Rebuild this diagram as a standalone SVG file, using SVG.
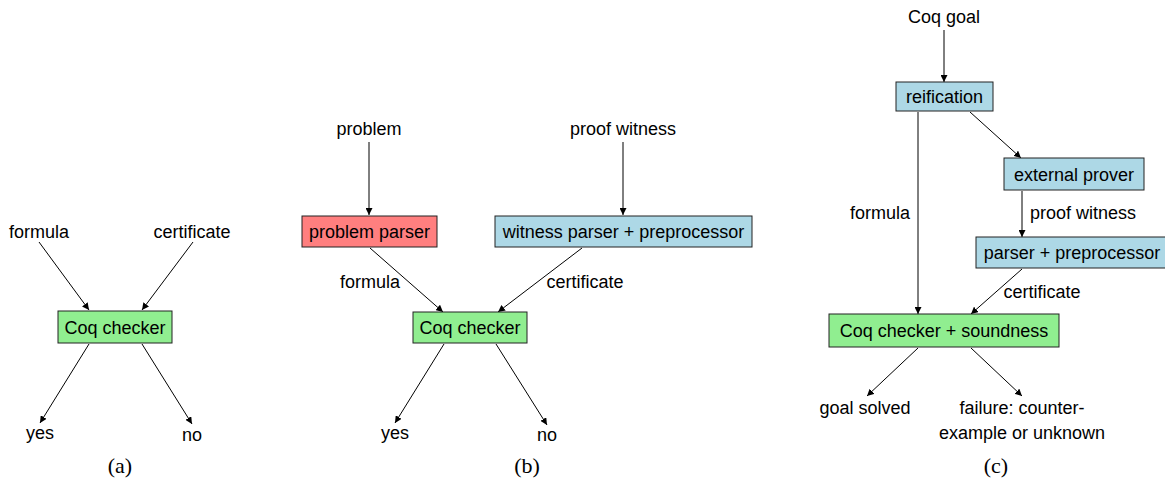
<svg xmlns="http://www.w3.org/2000/svg" width="1165" height="486" viewBox="0 0 1165 486">
<style>
text{font-family:"Liberation Sans","DejaVu Sans",sans-serif;font-size:18px;fill:#000;text-anchor:middle}
.cap{font-family:"Liberation Serif",serif;font-size:22px}
.box{stroke:#222;stroke-width:1}
.g{fill:#90EE90}.b{fill:#ADD8E6}.r{fill:#FF7F7F}
.e{stroke:#000;stroke-width:1;fill:none;marker-end:url(#ah)}
</style>
<defs>
<marker id="ah" viewBox="0 0 10 10" refX="10" refY="5" markerWidth="7" markerHeight="7" markerUnits="userSpaceOnUse" orient="auto">
<path d="M0,0 L10,5 L0,10 z" fill="#000"/>
</marker>
</defs>
<rect width="1165" height="486" fill="#fff"/>
<g id="edges">
<line class="e" x1="39" y1="242" x2="89" y2="310"/>
<line class="e" x1="193" y1="242" x2="142" y2="310"/>
<line class="e" x1="89" y1="344" x2="40" y2="423"/>
<line class="e" x1="142" y1="344" x2="192" y2="424"/>
<line class="e" x1="369" y1="142" x2="369" y2="215"/>
<line class="e" x1="623" y1="142" x2="623" y2="215"/>
<line class="e" x1="370" y1="248" x2="443" y2="312"/>
<line class="e" x1="582" y1="248" x2="498" y2="312"/>
<line class="e" x1="444" y1="344" x2="395" y2="423"/>
<line class="e" x1="496" y1="344" x2="547" y2="425"/>
<line class="e" x1="944" y1="30" x2="944" y2="82"/>
<line class="e" x1="970" y1="112" x2="1021" y2="158"/>
<line class="e" x1="1022" y1="191" x2="1022" y2="237"/>
<line class="e" x1="918" y1="112" x2="918" y2="314"/>
<line class="e" x1="1022" y1="269" x2="971" y2="314"/>
<line class="e" x1="918" y1="348" x2="867" y2="396"/>
<line class="e" x1="971" y1="348" x2="1022" y2="396"/>
</g>
<g id="labels">
<text x="39" y="238">formula</text>
<text x="192" y="238">certificate</text>
<text x="40" y="439">yes</text>
<text x="192" y="441">no</text>
<text x="369" y="135">problem</text>
<text x="623" y="135">proof witness</text>
<text x="370" y="288">formula</text>
<text x="585" y="288">certificate</text>
<text x="395" y="439">yes</text>
<text x="547" y="441">no</text>
<text x="944" y="23">Coq goal</text>
<text x="880" y="219">formula</text>
<text x="1083" y="219">proof witness</text>
<text x="1042" y="298">certificate</text>
<text x="865" y="414">goal solved</text>
<text x="1022" y="414">failure: counter-</text>
<text x="1022" y="439">example or unknown</text>
<text class="cap" x="120" y="473">(a)</text>
<text class="cap" x="527" y="473">(b)</text>
<text class="cap" x="996" y="473">(c)</text>
</g>
<g id="n-coq-a"><rect class="box g" x="58" y="311" width="114" height="32"/><text x="115" y="333.5">Coq checker</text></g>
<g id="n-problem-parser"><rect class="box r" x="302" y="216" width="135" height="31"/><text x="369.5" y="238">problem parser</text></g>
<g id="n-witness-parser"><rect class="box b" x="495" y="216" width="257" height="31"/><text x="623.5" y="238">witness parser + preprocessor</text></g>
<g id="n-coq-b"><rect class="box g" x="413" y="312" width="114" height="31"/><text x="470" y="334">Coq checker</text></g>
<g id="n-reification"><rect class="box b" x="896" y="82" width="97" height="29"/><text x="944.5" y="103">reification</text></g>
<g id="n-external"><rect class="box b" x="1004" y="158" width="140" height="32"/><text x="1074" y="180.5">external prover</text></g>
<g id="n-parser-c"><rect class="box b" x="976" y="237" width="192" height="31"/><text x="1072" y="259">parser + preprocessor</text></g>
<g id="n-coq-c"><rect class="box g" x="829" y="314" width="230" height="33"/><text x="944" y="337">Coq checker + soundness</text></g>
</svg>
